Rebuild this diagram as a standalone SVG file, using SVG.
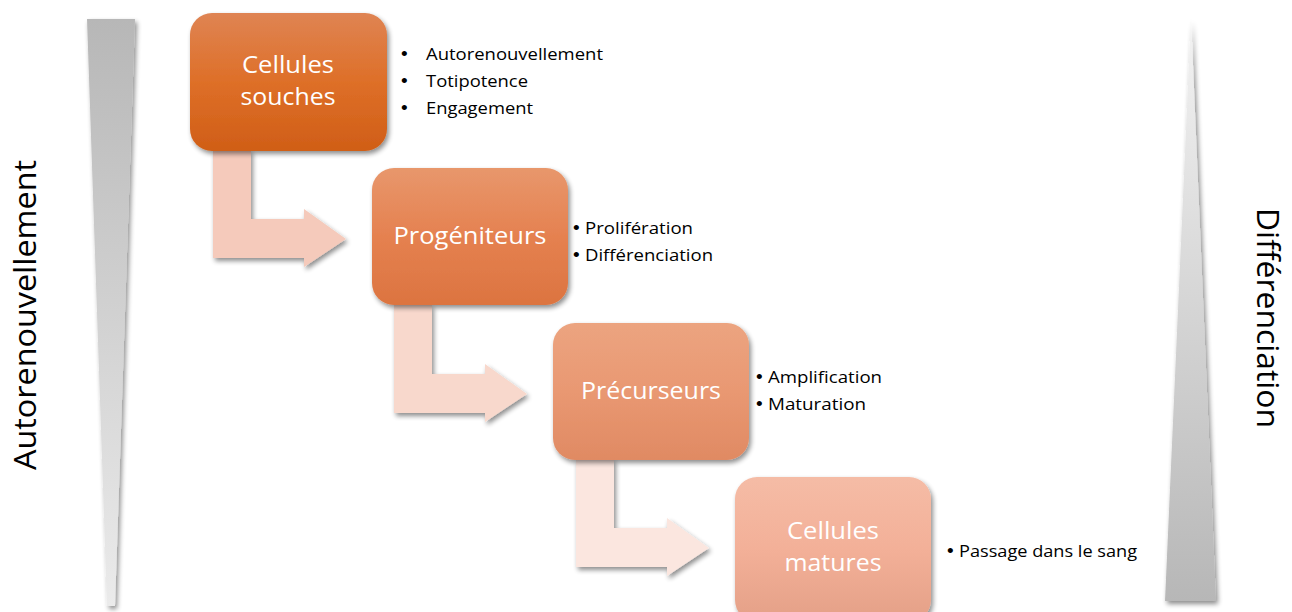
<svg xmlns="http://www.w3.org/2000/svg" width="1292" height="612" viewBox="0 0 1292 612">
<defs>
<style>
.box{stroke:none;}
.lbl{font-family:"Open Sans","Noto Sans","Liberation Sans",sans-serif;font-size:24px;fill:#ffffff;text-anchor:middle;}
.bul{font-family:"Open Sans","Noto Sans","Liberation Sans",sans-serif;font-size:17px;fill:#000000;}
.dot{font-family:"Liberation Sans","DejaVu Sans",sans-serif;font-size:19px;fill:#000000;}
.side{font-family:"Open Sans","Noto Sans","Liberation Sans",sans-serif;font-size:31px;fill:#000000;text-anchor:middle;}
</style>
<filter id="sh" x="-20%" y="-20%" width="140%" height="140%">
<feGaussianBlur in="SourceAlpha" stdDeviation="2.5"/>
<feOffset dx="2" dy="3" result="b"/>
<feComponentTransfer><feFuncA type="linear" slope="0.45"/></feComponentTransfer>
<feMerge><feMergeNode/><feMergeNode in="SourceGraphic"/></feMerge>
</filter>
<linearGradient id="gL" x1="0" y1="0" x2="0" y2="1"><stop offset="0" stop-color="#b7b7b7"/><stop offset="1" stop-color="#ebebeb"/></linearGradient>
<linearGradient id="gR" x1="0" y1="0" x2="0" y2="1"><stop offset="0" stop-color="#f3f3f3"/><stop offset="1" stop-color="#b7b7b7"/></linearGradient>
<linearGradient id="g1" x1="0" y1="0" x2="0" y2="1"><stop offset="0" stop-color="#df8453"/><stop offset="0.5" stop-color="#de6f28"/><stop offset="1" stop-color="#d05e17"/></linearGradient>
<linearGradient id="g2" x1="0" y1="0" x2="0" y2="1"><stop offset="0" stop-color="#e8976c"/><stop offset="0.5" stop-color="#e58150"/><stop offset="1" stop-color="#dc7440"/></linearGradient>
<linearGradient id="g3" x1="0" y1="0" x2="0" y2="1"><stop offset="0" stop-color="#eca480"/><stop offset="0.5" stop-color="#e99872"/><stop offset="1" stop-color="#e08a63"/></linearGradient>
<linearGradient id="g4" x1="0" y1="0" x2="0" y2="1"><stop offset="0" stop-color="#f5bca6"/><stop offset="0.5" stop-color="#f3b098"/><stop offset="1" stop-color="#e4a087"/></linearGradient>
</defs>
<rect width="1292" height="612" fill="#ffffff"/>

<g id="left-scale">
<polygon points="87,19 135,19 115,606 107,606" fill="url(#gL)" filter="url(#sh)"/>
<text class="side" transform="translate(36,315) rotate(-90)" textLength="310" lengthAdjust="spacingAndGlyphs">Autorenouvellement</text>
</g>
<g id="right-scale">
<polygon points="1191,18 1216,601 1165,601" fill="url(#gR)" filter="url(#sh)"/>
<text class="side" transform="translate(1257,318) rotate(90)" textLength="220" lengthAdjust="spacingAndGlyphs">Différenciation</text>
</g>

<g id="connectors">
<path d="M213,150 H251 V219 H304 V209 L346,239 L304,267 V258 H213 Z" fill="#f5cabb" filter="url(#sh)"/>
<path d="M394,305 H432 V374 H485 V364 L527,394 L485,422 V413 H394 Z" fill="#f8d8cc" filter="url(#sh)"/>
<path d="M576,459 H614 V528 H667 V518 L709,548 L667,576 V567 H576 Z" fill="#fbe6df" filter="url(#sh)"/>
</g>

<g id="node-souches">
<rect class="box" x="190" y="13" width="197" height="138" rx="22" fill="url(#g1)" filter="url(#sh)"/>
<text class="lbl" x="288" y="73" textLength="92" lengthAdjust="spacingAndGlyphs">Cellules</text>
<text class="lbl" x="288" y="105" textLength="95" lengthAdjust="spacingAndGlyphs">souches</text>
</g>
<g id="node-progeniteurs">
<rect class="box" x="372" y="168" width="196" height="137" rx="22" fill="url(#g2)" filter="url(#sh)"/>
<text class="lbl" x="470" y="244" textLength="153" lengthAdjust="spacingAndGlyphs">Progéniteurs</text>
</g>
<g id="node-precurseurs">
<rect class="box" x="553" y="323" width="196" height="137" rx="22" fill="url(#g3)" filter="url(#sh)"/>
<text class="lbl" x="651" y="399" textLength="140" lengthAdjust="spacingAndGlyphs">Précurseurs</text>
</g>
<g id="node-matures">
<rect class="box" x="735" y="477" width="196" height="145" rx="22" fill="url(#g4)" filter="url(#sh)"/>
<text class="lbl" x="833" y="539" textLength="92" lengthAdjust="spacingAndGlyphs">Cellules</text>
<text class="lbl" x="833" y="571" textLength="97" lengthAdjust="spacingAndGlyphs">matures</text>
</g>

<g id="bullets-1">
<text class="dot" x="401" y="60">•</text><text class="bul" x="426" y="60" textLength="177" lengthAdjust="spacingAndGlyphs">Autorenouvellement</text>
<text class="dot" x="401" y="87">•</text><text class="bul" x="426" y="87" textLength="102" lengthAdjust="spacingAndGlyphs">Totipotence</text>
<text class="dot" x="401" y="114">•</text><text class="bul" x="426" y="114" textLength="107" lengthAdjust="spacingAndGlyphs">Engagement</text>
</g>
<g id="bullets-2">
<text class="dot" x="573" y="234">•</text><text class="bul" x="585" y="234" textLength="108" lengthAdjust="spacingAndGlyphs">Prolifération</text>
<text class="dot" x="573" y="261">•</text><text class="bul" x="585" y="261" textLength="128" lengthAdjust="spacingAndGlyphs">Différenciation</text>
</g>
<g id="bullets-3">
<text class="dot" x="756" y="383">•</text><text class="bul" x="768" y="383" textLength="114" lengthAdjust="spacingAndGlyphs">Amplification</text>
<text class="dot" x="756" y="410">•</text><text class="bul" x="768" y="410" textLength="98" lengthAdjust="spacingAndGlyphs">Maturation</text>
</g>
<g id="bullets-4">
<text class="dot" x="947" y="557">•</text><text class="bul" x="959" y="557" textLength="178" lengthAdjust="spacingAndGlyphs">Passage dans le sang</text>
</g>
</svg>
